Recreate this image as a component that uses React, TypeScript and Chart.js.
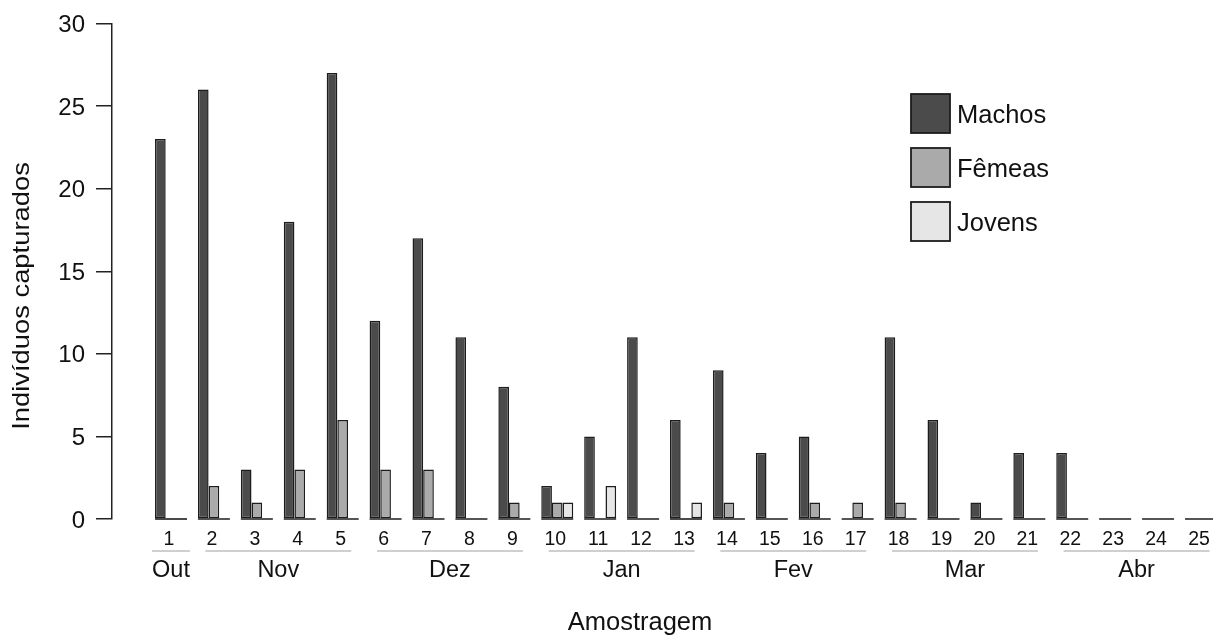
import { useEffect, useRef } from 'react';
import { Chart, registerables } from 'chart.js';

Chart.register(...registerables);

// Sample numbers along the horizontal axis
const samples = [
  '1', '2', '3', '4', '5', '6', '7', '8', '9', '10', '11', '12', '13',
  '14', '15', '16', '17', '18', '19', '20', '21', '22', '23', '24', '25',
];

// Individuals captured per sample
const machos = [23, 26, 3, 18, 27, 12, 17, 11, 8, 2, 5, 11, 6, 9, 4, 5, 0, 11, 6, 1, 4, 4, 0, 0, 0];
const femeas = [0, 2, 1, 3, 6, 3, 3, 0, 1, 1, 0, 0, 0, 1, 0, 1, 1, 1, 0, 0, 0, 0, 0, 0, 0];
const jovens = [0, 0, 0, 0, 0, 0, 0, 0, 0, 1, 2, 0, 1, 0, 0, 0, 0, 0, 0, 0, 0, 0, 0, 0, 0];

// Month groups under the sample numbers
const monthNames = ['Out', 'Nov', 'Dez', 'Jan', 'Fev', 'Mar', 'Abr'];
const monthFirst = [1, 2, 6, 10, 14, 18, 22];
const monthLast = [1, 5, 9, 13, 17, 21, 25];

const yTicks = [0, 5, 10, 15, 20, 25, 30];

const FONT = '"Liberation Sans", Arial, Helvetica, sans-serif';
const GROUP = 0.745; // share of each sample slot used by its three bars
const X_MIN = -0.375;
const X_MAX = 25.28;

const decorations = {
  id: 'decorations',
  afterDatasetsDraw(chart: any) {
    const { ctx } = chart;
    const x = chart.scales.x;
    const y = chart.scales.y;
    const y0 = y.getPixelForValue(0);
    ctx.save();
    ctx.strokeStyle = '#1c1c1c';
    ctx.lineWidth = 1.6;
    samples.forEach((_, i) => {
      const l = x.getPixelForValue(i + 1 - GROUP / 2);
      const r = x.getPixelForValue(i + 1 + GROUP / 2);
      ctx.beginPath();
      ctx.moveTo(l, y0);
      ctx.lineTo(r, y0);
      ctx.stroke();
    });
    ctx.restore();
  },
  afterDraw(chart: any) {
    const { ctx } = chart;
    const x = chart.scales.x;
    ctx.save();

    // month labels with their span lines
    ctx.font = `23.5px ${FONT}`;
    ctx.textAlign = 'center';
    ctx.textBaseline = 'alphabetic';
    monthNames.forEach((name, i) => {
      let l = x.getPixelForValue(monthFirst[i] - 0.2);
      let r = x.getPixelForValue(monthLast[i] + 0.2);
      const c = (l + r) / 2;
      const w = ctx.measureText(name).width;
      l = Math.min(l, c - w / 2);
      r = Math.max(r, c + w / 2);
      ctx.strokeStyle = '#a0a0a0';
      ctx.lineWidth = 1.2;
      ctx.beginPath();
      ctx.moveTo(l, 551);
      ctx.lineTo(r, 551);
      ctx.stroke();
      ctx.fillStyle = '#111';
      ctx.fillText(name, c, 577);
    });

    // axis titles
    ctx.font = `25.5px ${FONT}`;
    ctx.fillText('Amostragem', 640, 630);

    ctx.save();
    ctx.translate(29, 296);
    ctx.rotate(-Math.PI / 2);
    ctx.scale(1.14, 1);
    ctx.font = `24px ${FONT}`;
    ctx.textAlign = 'center';
    ctx.fillText('Indivíduos capturados', 0, 0);
    ctx.restore();

    // legend
    ctx.font = `25.5px ${FONT}`;
    ctx.textAlign = 'left';
    chart.data.datasets.forEach((ds: any, i: number) => {
      const top = 94 + i * 54;
      ctx.fillStyle = ds.backgroundColor;
      ctx.fillRect(911, top, 39, 39);
      ctx.strokeStyle = '#1c1c1c';
      ctx.lineWidth = 1.8;
      ctx.strokeRect(911, top, 39, 39);
      ctx.fillStyle = '#111';
      ctx.fillText(ds.label, 957, top + 28.5);
    });

    ctx.restore();
  },
};

export default function App() {
  const ref = useRef<HTMLCanvasElement>(null);

  useEffect(() => {
    if (!ref.current) return;
    const point = (arr: number[]) => arr.map((v, i) => ({ x: i + 1, y: v }));
    const barStyle = {
      borderColor: '#1c1c1c',
      borderWidth: 1.5,
      borderSkipped: false as const,
      categoryPercentage: GROUP,
      barPercentage: 1,
    };
    const chart = new Chart(ref.current, {
      type: 'bar',
      data: {
        datasets: [
          { label: 'Machos', data: point(machos), backgroundColor: '#4b4b4b', ...barStyle },
          { label: 'Fêmeas', data: point(femeas), backgroundColor: '#aaaaaa', ...barStyle },
          { label: 'Jovens', data: point(jovens), backgroundColor: '#e6e6e6', ...barStyle },
        ],
      },
      options: {
        responsive: false,
        animation: false,
        layout: { padding: { top: 23.5, left: 0, right: 0, bottom: 0 } },
        plugins: {
          legend: { display: false },
          tooltip: { enabled: false },
          title: { display: false },
        },
        scales: {
          x: {
            type: 'linear',
            min: X_MIN,
            max: X_MAX,
            offset: false,
            grid: { display: false, drawTicks: false },
            border: { display: false },
            afterBuildTicks: (s: any) => {
              s.ticks = samples.map((_, i) => ({ value: i + 1 }));
            },
            afterFit: (s: any) => {
              s.height = 116;
              s.paddingLeft = 0;
              s.paddingRight = 0;
            },
            ticks: {
              autoSkip: false,
              maxRotation: 0,
              padding: 9,
              labelOffset: -2,
              color: '#111',
              font: { family: FONT, size: 19.5 },
              callback: (_v: any, i: number) => samples[i],
            },
          },
          y: {
            min: 0,
            max: 30,
            afterBuildTicks: (s: any) => {
              s.ticks = yTicks.map((v) => ({ value: v }));
            },
            afterFit: (s: any) => {
              s.width = 112;
              s.paddingTop = 0;
              s.paddingBottom = 0;
            },
            ticks: {
              padding: 11,
              labelOffset: 2,
              color: '#111',
              font: { family: FONT, size: 24 },
            },
            grid: {
              drawOnChartArea: false,
              drawTicks: true,
              tickLength: 16,
              color: '#222',
              lineWidth: 1.5,
            },
            border: { display: true, color: '#222', width: 1.5 },
          },
        },
      },
      plugins: [decorations],
    } as any);
    return () => chart.destroy();
  }, []);

  return (
    <div style={{ position: 'absolute', left: 0, top: 0, width: 1213, height: 635, background: '#fff' }}>
      <canvas ref={ref} width={1213} height={635} style={{ display: 'block' }} />
    </div>
  );
}
